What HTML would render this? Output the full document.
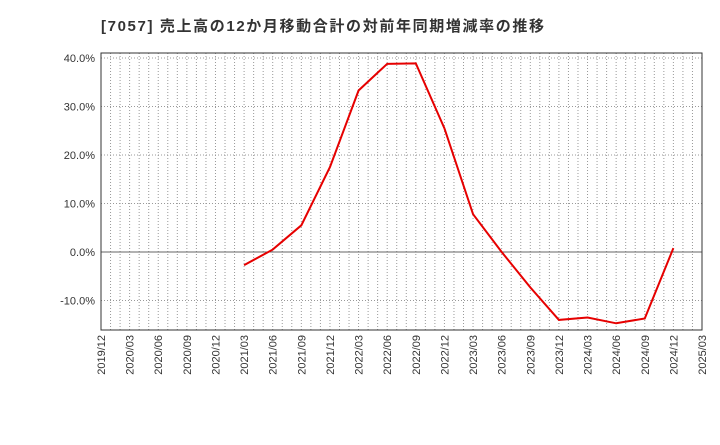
<!DOCTYPE html>
<html><head><meta charset="utf-8"><style>
body{margin:0;background:#fff;}
svg text{font-family:"Liberation Sans","Noto Sans CJK JP",sans-serif;}
</style></head><body>
<svg id="c" width="720" height="440" xmlns="http://www.w3.org/2000/svg">
<text x="101" y="31" font-size="15" font-weight="bold" fill="#333" textLength="443" lengthAdjust="spacing">[7057]  売上高の12か月移動合計の対前年同期増減率の推移</text>
<g id="grid"></g><g id="axes"></g><g id="series"></g>
</svg>
<script>
const xLabels=["2019/12","2020/03","2020/06","2020/09","2020/12","2021/03","2021/06","2021/09","2021/12","2022/03","2022/06","2022/09","2022/12","2023/03","2023/06","2023/09","2023/12","2024/03","2024/06","2024/09","2024/12","2025/03"];
const yTicks=[-10,0,10,20,30,40];
const yTickLabels=["-10.0%","0.0%","10.0%","20.0%","30.0%","40.0%"];
const seriesStart=5;
const seriesValues=[-2.7,0.5,5.5,17.5,33.3,38.8,38.9,25.5,7.8,0,-7.3,-14,-13.5,-14.7,-13.7,0.8];
const L=101,R=702,T=53,B=330;
const ns="http://www.w3.org/2000/svg";
const xs=i=>L+(R-L)*i/(xLabels.length-1);
const ys=v=>252-v*4.85;
function mk(t,a,p){const e=document.createElementNS(ns,t);for(const k in a)e.setAttribute(k,a[k]);p.appendChild(e);return e;}
const g=document.getElementById('grid'),ax=document.getElementById('axes'),s=document.getElementById('series');
for(let m=1;m<(xLabels.length-1)*3;m++){const x=L+(R-L)*m/((xLabels.length-1)*3);
 const l=mk('line',{x1:x,x2:x,y1:T,y2:B,stroke:'#999','stroke-dasharray':'1,2','stroke-width':1},g);
 }
yTicks.forEach((v,i)=>{const y=ys(v);
 const l=mk('line',{x1:L,x2:R,y1:y,y2:y,stroke:v===0?'#666':'#999','stroke-dasharray':v===0?'':'1,2','stroke-width':1},g);
 
 const t=mk('text',{x:L-6,y:y+4,'text-anchor':'end','font-size':11,fill:'#333'},ax);t.textContent=yTickLabels[i];
 });
xLabels.forEach((lb,i)=>{const x=xs(i);
 const t=mk('text',{x:x+4,y:B+5,'text-anchor':'end','font-size':11,fill:'#333',transform:`rotate(-90 ${x+4} ${B+5})`},ax);t.textContent=lb;
 });
const fr=mk('rect',{x:L,y:T,width:R-L,height:B-T,fill:'none',stroke:'#333','stroke-width':1},ax);

const pts=seriesValues.map((v,i)=>xs(seriesStart+i)+','+ys(v)).join(' ');
const pl=mk('polyline',{points:pts,fill:'none',stroke:'#e60000','stroke-width':2},s);

</script>
</body></html>
